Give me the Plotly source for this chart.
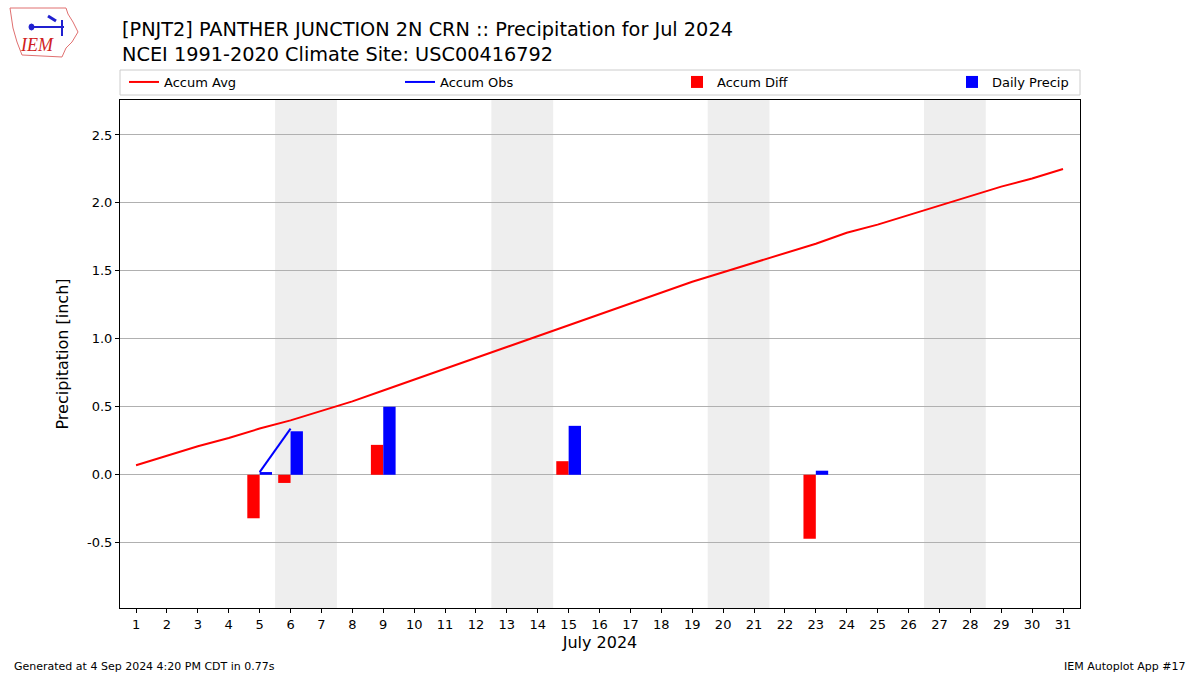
import plotly.graph_objects as go

days = list(range(1, 32))
accum_avg = [0.07, 0.14, 0.21, 0.27, 0.34, 0.40, 0.47, 0.54, 0.62, 0.70, 0.78, 0.86,
             0.94, 1.02, 1.10, 1.18, 1.26, 1.34, 1.42, 1.49, 1.56, 1.63, 1.70, 1.78,
             1.84, 1.91, 1.98, 2.05, 2.12, 2.18, 2.25]
obs_days = [5, 6]
accum_obs = [0.02, 0.34]
diff_days = [5, 6, 9, 15, 23]
accum_diff = [-0.32, -0.06, 0.22, 0.10, -0.47]
precip_days = [5, 6, 9, 15, 23]
daily_precip = [0.02, 0.32, 0.50, 0.36, 0.03]
weekend_starts = [5.5, 12.5, 19.5, 26.5]
y_ticks = [-0.5, 0.0, 0.5, 1.0, 1.5, 2.0, 2.5]

FONT = "DejaVu Sans"
L, R, T, B = 120, 1080, 100, 608
PW, PH = R - L, B - T


def px(x):
    return (x - L) / PW


def py(y):
    return (B - y) / PH


fig = go.Figure()

for s in weekend_starts:
    fig.add_shape(type="rect", xref="x", yref="paper", x0=s, x1=s + 2, y0=0, y1=1,
                  fillcolor="#eeeeee", line_width=0, layer="below")

fig.add_trace(go.Scatter(x=days, y=accum_avg, mode="lines", name="Accum Avg",
                         line=dict(color="red", width=2), legend="legend"))
fig.add_trace(go.Scatter(x=obs_days, y=accum_obs, mode="lines", name="Accum Obs",
                         line=dict(color="blue", width=2), legend="legend2"))
fig.add_trace(go.Bar(x=diff_days, y=accum_diff, name="Accum Diff", width=0.4, offset=-0.4,
                     marker=dict(color="red", line_width=0), legend="legend3"))
fig.add_trace(go.Bar(x=precip_days, y=daily_precip, name="Daily Precip", width=0.4, offset=0,
                     marker=dict(color="blue", line_width=0), legend="legend4"))

# legend frame
fig.add_shape(type="rect", xref="paper", yref="paper", x0=0, x1=1,
              y0=py(95), y1=py(70), line=dict(color="#cccccc", width=1),
              fillcolor="rgba(0,0,0,0)")

# logo approximation (Iowa outline)
iowa = [(10, 8), (66, 8), (68, 14), (73, 22), (78, 32), (72, 42), (66, 48), (62, 57),
        (22, 55), (17, 42), (13, 28), (10, 8)]
path = "M " + " L ".join(f"{px(a):.5f},{py(b):.5f}" for a, b in iowa) + " Z"
fig.add_shape(type="path", xref="paper", yref="paper", path=path,
              line=dict(color="#e07070", width=1), fillcolor="rgba(0,0,0,0)")
fig.add_shape(type="line", xref="paper", yref="paper", x0=px(30), x1=px(64), y0=py(27), y1=py(27),
              line=dict(color="#2020d0", width=2))
fig.add_shape(type="line", xref="paper", yref="paper", x0=px(62), x1=px(62), y0=py(20), y1=py(36),
              line=dict(color="#2020d0", width=2))
fig.add_shape(type="circle", xref="paper", yref="paper", x0=px(29), x1=px(34), y0=py(30), y1=py(24),
              line=dict(color="#2020d0", width=1), fillcolor="#2020d0")
fig.add_shape(type="line", xref="paper", yref="paper", x0=px(48), x1=px(56), y0=py(16), y1=py(21),
              line=dict(color="#2020d0", width=3))

leg_common = dict(orientation="h", yanchor="middle", y=py(82), xanchor="left",
                  bgcolor="rgba(0,0,0,0)", borderwidth=0, font=dict(size=13, family=FONT))

fig.update_layout(
    width=1200, height=675,
    margin=dict(l=L, r=1200 - R, t=T, b=675 - B, autoexpand=False),
    plot_bgcolor="white", paper_bgcolor="white",
    barmode="overlay",
    font=dict(family=FONT, size=13, color="black"),
    showlegend=True,
    legend=dict(x=px(124), **leg_common),
    legend2=dict(x=px(400), **leg_common),
    legend3=dict(x=px(677), **leg_common),
    legend4=dict(x=px(952), **leg_common),
    xaxis=dict(range=[0.48, 31.55], tickmode="array", tickvals=days,
               ticktext=[str(d) for d in days], showgrid=False, zeroline=False,
               showline=True, mirror=True, linecolor="black", linewidth=1,
               ticks="outside", ticklen=4, tickcolor="black",
               title=dict(text="July 2024", font=dict(size=16, family=FONT), standoff=6)),
    yaxis=dict(range=[-0.98, 2.757], tickmode="array", tickvals=y_ticks,
               ticktext=[f"{v:.1f}" for v in y_ticks], showgrid=True,
               gridcolor="#b0b0b0", gridwidth=1, zeroline=True, zerolinecolor="#b0b0b0",
               zerolinewidth=1, showline=True, mirror=True, linecolor="black", linewidth=1,
               ticks="outside", ticklen=4, tickcolor="black",
               title=dict(text="Precipitation [inch]", font=dict(size=16, family=FONT), standoff=14)),
)

fig.add_annotation(xref="paper", yref="paper", x=0, y=py(16), xanchor="left", yanchor="top",
                   text="[PNJT2] PANTHER JUNCTION 2N CRN :: Precipitation for Jul 2024<br>NCEI 1991-2020 Climate Site: USC00416792",
                   showarrow=False, align="left", font=dict(size=19.3, family=FONT))
fig.add_annotation(xref="paper", yref="paper", x=px(12), y=py(666), xanchor="left", yanchor="middle",
                   text="Generated at 4 Sep 2024 4:20 PM CDT in 0.77s", showarrow=False,
                   font=dict(size=11, family=FONT))
fig.add_annotation(xref="paper", yref="paper", x=px(1188), y=py(666), xanchor="right", yanchor="middle",
                   text="IEM Autoplot App #17", showarrow=False, font=dict(size=11, family=FONT))
fig.add_annotation(xref="paper", yref="paper", x=px(37), y=py(45), xanchor="center", yanchor="middle",
                   text="<i>IEM</i>", showarrow=False,
                   font=dict(size=18, family="Liberation Serif", color="#d02020"))

fig.write_html("out.html", config={"displayModeBar": False},
               post_script="document.body.style.margin='0px';document.body.style.padding='0px';")
